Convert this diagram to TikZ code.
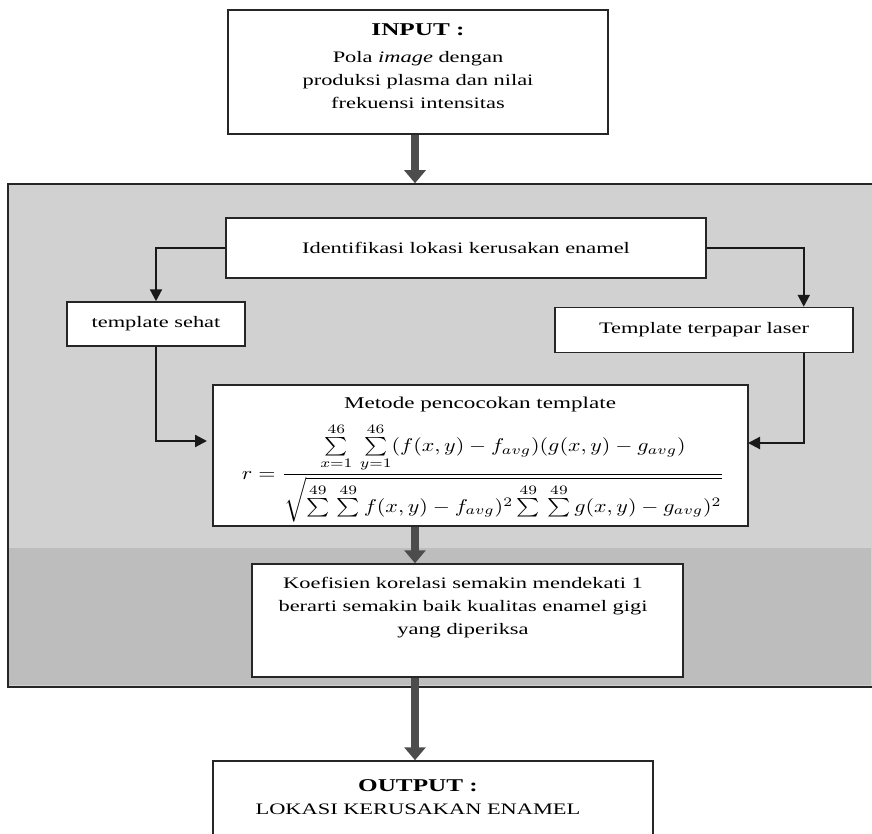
\documentclass[tikz,border=0pt]{standalone}
\usepackage{fontspec}
\setmainfont{Liberation Serif}[FakeStretch=1.4]
\usetikzlibrary{arrows.meta}
\begin{document}
\begin{tikzpicture}[x=1pt,y=-1pt,
  box/.style={draw=black!85, line width=1.5pt, fill=white, inner sep=0pt},
  conn/.style={draw=black!90, line width=2.2pt, -{Triangle[length=12pt,width=12pt]}},
  fat/.style={draw=black!70, line width=8pt, -{Triangle[length=13pt,width=21pt]}},
  lbl/.style={align=center, font=\fontsize{16}{23}\selectfont, inner sep=0pt}]
\useasboundingbox (0,0) rectangle (872,834);
\clip (0,0) rectangle (872,834);
\coordinate (ax) at (415,0);
% grey panel
\node[draw=black!85, line width=1.5pt, fill=black!18, minimum width=880pt, minimum height=503pt, inner sep=0pt] (panel) at (448,435.5) {};
\fill[black!26] (9,548) rectangle (871,685);
% boxes
\node[box, minimum width=380pt, minimum height=124pt] (inp) at (418,72) {};
\node[lbl] (inptxt) at (418,66) {{\fontsize{18}{23}\selectfont\bfseries INPUT :}\\[4pt]Pola \textit{image} dengan\\produksi plasma dan nilai\\frekuensi intensitas};
\node[box, lbl, minimum width=480pt, minimum height=60pt] (ident) at (466,248) {Identifikasi lokasi kerusakan enamel};
\node[box, lbl, minimum width=178pt, minimum height=44pt] (sehat) at (156,324) {template sehat};
\node[box, lbl, minimum width=298pt, minimum height=45pt] (laser) at (704,330) {Template terpapar laser};
\node[box, minimum width=535pt, minimum height=141pt] (metode) at (480.5,455.5) {};
\node[lbl, font=\fontsize{16.5}{19}\selectfont] (mtitle) at (480,405) {Metode pencocokan template};
\node[inner sep=0pt, xscale=2.2, yscale=1.85] (formula) at (483,473) {$\displaystyle r=\frac{\sum\limits_{x=1}^{46}\,\sum\limits_{y=1}^{46}(f(x,y)-f_{avg})(g(x,y)-g_{avg})}{\sqrt{\sum\limits^{49}\,\sum\limits^{49}f(x,y)-f_{avg})^2\sum\limits^{49}\,\sum\limits^{49}g(x,y)-g_{avg})^2}}$};
\node[box, minimum width=431pt, minimum height=113pt] (koef) at (467.5,620.5) {};
\node[lbl] (koeftxt) at (463,608) {Koefisien korelasi semakin mendekati 1\\berarti semakin baik kualitas enamel gigi\\yang diperiksa};
\node[box, minimum width=440pt, minimum height=100pt] (out) at (433,811) {};
\node[lbl] (outtxt) at (418,797) {{\fontsize{18}{23}\selectfont\bfseries OUTPUT :}\\LOKASI KERUSAKAN ENAMEL};
% connectors
\coordinate (mL) at (207,441);
\coordinate (mR) at (748,443);
\draw[conn] (ident.west) -| (sehat.north);
\draw[conn] (ident.east) -| ([xshift=-50pt]laser.north east);
\draw[conn] (sehat.south) |- (mL);
\draw[conn] ([xshift=-50pt]laser.south east) |- (mR);
% fat arrows
\draw[fat] (inp.south -| ax) -- (panel.north -| ax);
\draw[fat] (metode.south -| ax) -- (koef.north -| ax);
\draw[fat] (koef.south -| ax) -- (out.north -| ax);
\end{tikzpicture}
\end{document}
